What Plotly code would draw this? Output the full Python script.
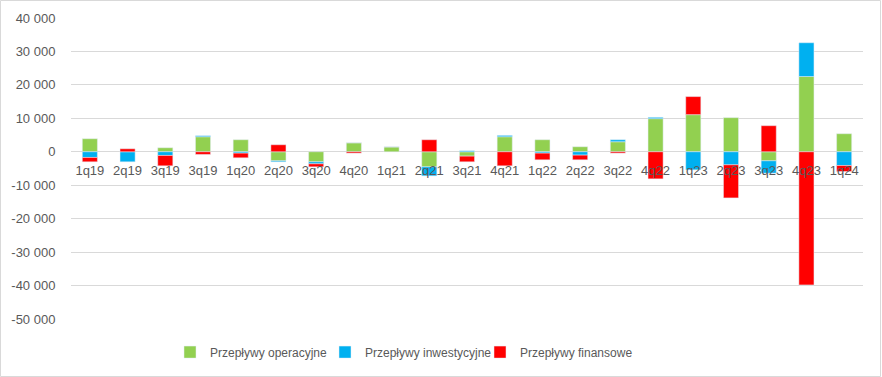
import plotly.graph_objects as go

quarters = ["1q19", "2q19", "3q19", "3q19", "1q20", "2q20", "3q20", "4q20", "1q21", "2q21", "3q21",
            "4q21", "1q22", "2q22", "3q22", "4q22", "1q23", "2q23", "3q23", "4q23", "1q24"]
operacyjne = [3900, 0, 1200, 4500, 3600, -2700, -3000, 2700, 1500, -4500, -1300,
              4500, 3600, 1500, 3000, 9900, 11100, 10200, -2700, 22500, 5400]
inwestycyjne = [-1700, -3000, -1100, 300, -400, -300, -600, 0, 0, -2700, 300,
                400, -400, -1000, 600, 400, -5400, -3900, -3700, 10100, -4100]
finansowe = [-1300, 900, -3100, -800, -1400, 2100, -900, -400, 0, 3600, -1700,
             -4200, -2000, -1400, -400, -8100, 5400, -9900, 7800, -39800, -1800]
y_ticks = [-50000, -40000, -30000, -20000, -10000, 0, 10000, 20000, 30000, 40000]
y_ticktext = ["{:,}".format(v).replace(",", " ") for v in y_ticks]

x = list(range(len(quarters)))
font = "Liberation Sans"
txt = "#595959"

fig = go.Figure()
fig.add_trace(go.Bar(x=x, y=operacyjne, name="Przepływy operacyjne", marker_color="#92D050"))
fig.add_trace(go.Bar(x=x, y=inwestycyjne, name="Przepływy inwestycyjne", marker_color="#00B0F0"))
fig.add_trace(go.Bar(x=x, y=finansowe, name="Przepływy finansowe", marker_color="#FF0000"))

ymin, ymax = y_ticks[0], y_ticks[-1]
fig.update_layout(
    width=882, height=377,
    barmode="relative", bargap=0.6,
    plot_bgcolor="white", paper_bgcolor="white",
    margin=dict(l=71, r=19, t=18, b=58, autoexpand=False),
    font=dict(family=font, size=13, color=txt),
    showlegend=True,
    legend=dict(orientation="h", x=0.125, xanchor="left", y=-0.11, yanchor="middle",
                font=dict(size=12, color=txt), itemwidth=30, traceorder="normal",
                entrywidth=110, entrywidthmode="pixels"),
    xaxis=dict(range=[-0.5, len(quarters) - 0.5], tickvals=x, ticktext=quarters,
               anchor="free", position=(0 - ymin) / (ymax - ymin),
               showgrid=False, zeroline=False, showline=False,
               ticks="outside", ticklen=7, tickcolor="rgba(0,0,0,0)",
               tickfont=dict(size=13, color=txt)),
    yaxis=dict(range=[ymin, ymax], tickvals=y_ticks, ticktext=y_ticktext,
               showgrid=True, gridcolor="#d9d9d9", gridwidth=1,
               zeroline=True, zerolinecolor="#d9d9d9", zerolinewidth=1,
               showline=False, ticks="outside", ticklen=12, tickcolor="rgba(0,0,0,0)",
               tickfont=dict(size=13, color=txt)),
    shapes=[dict(type="rect", xref="paper", yref="paper",
                 x0=-70.5 / 792, x1=1 + 17.5 / 792, y0=-57.5 / 301, y1=1 + 17.5 / 301,
                 line=dict(color="#d9d9d9", width=1))],
)

fig.write_html("out.html", config={"displayModeBar": False},
               post_script="document.body.style.margin='0';")
